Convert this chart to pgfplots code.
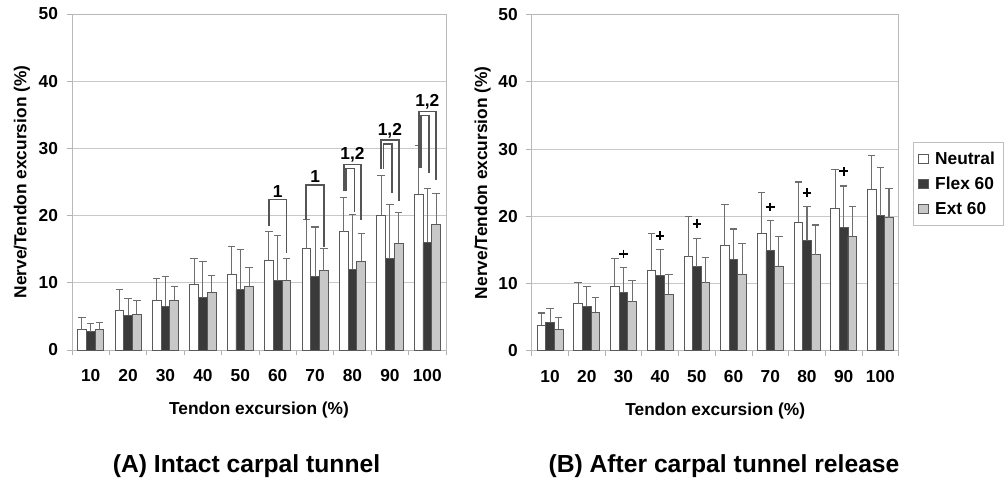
\documentclass[border=0pt]{standalone}
\usepackage{fontspec}
\setmainfont{Liberation Sans}
\usepackage{pgfplots}
\usepackage{pgfplotstable}
\pgfplotsset{compat=1.18}
\definecolor{flexc}{HTML}{3A3A3A}
\definecolor{extc}{HTML}{C8C8C8}
\definecolor{edgec}{HTML}{5A5A5A}
\definecolor{gridc}{HTML}{C8C8C8}
\definecolor{ebarc}{HTML}{6E6E6E}
\definecolor{brkc}{HTML}{555555}

% x n(eutral) ne(rror) f(lex) fe e(xt) ee
\pgfplotstableread{
x n ne f fe e ee
1 3.0 1.8 2.7 1.3 3.0 1.1
2 5.85 3.15 5.2 2.5 5.3 2.1
3 7.4 3.3 6.5 4.4 7.4 2.0
4 9.8 3.8 7.8 5.4 8.6 2.5
5 11.3 4.1 9.0 6.0 9.5 2.8
6 13.4 4.3 10.3 6.8 10.4 3.2
7 15.1 4.3 10.9 7.4 11.8 3.3
8 17.6 5.1 12.0 8.2 13.2 4.1
9 20.1 5.9 13.6 8.1 15.9 4.6
10 23.2 7.2 16.0 8.0 18.7 4.6
}\dataA

\pgfplotstableread{
x n ne f fe e ee
1 3.8 1.8 4.2 2.1 3.2 1.7
2 7.0 3.1 6.6 3.0 5.7 2.2
3 9.6 4.1 8.7 3.7 7.3 3.2
4 12.0 5.4 11.2 3.9 8.4 3.0
5 14.0 5.9 12.5 4.2 10.1 3.7
6 15.7 6.1 13.6 4.5 11.3 4.6
7 17.5 6.0 14.9 4.4 12.6 4.4
8 19.1 6.0 16.4 5.0 14.3 4.4
9 21.2 5.7 18.4 6.1 17.0 4.5
10 24.0 5.0 20.1 7.1 19.8 4.4
}\dataB

\newcommand{\lblfont}{\bfseries\fontsize{13}{15}\selectfont}

\pgfplotsset{
  panel/.style={
    scale only axis, height=252pt,
    xmin=0.5, xmax=10.5, ymin=0, ymax=50,
    xtick={1,2,3,4,5,6,7,8,9,10},
    xticklabels={10,20,30,40,50,60,70,80,90,100},
    major x tick style={draw=none},
    minor xtick={0.5,1.5,...,10.5},
    minor tick length=4pt,
    ytick={0,10,20,30,40,50},
    major tick length=4pt,
    tick align=outside, tick pos=left,
    tick style={gray!60, line width=0.6pt},
    ymajorgrids, grid style={gridc, line width=0.7pt},
    axis line style={gray!55, line width=0.7pt},
    tick label style={font=\lblfont},
    /pgf/number format/assume math mode=true,
    xticklabel style={yshift=-7pt},
    yticklabel style={xshift=-3pt},
    label style={font=\lblfont},
    xlabel={Tendon excursion (\%)},
    ylabel={Nerve/Tendon excursion (\%)},
    xlabel style={at={(axis description cs:0.5,-0.18)}, anchor=center},
    ylabel style={at={(axis description cs:-0.134,0.5)}, anchor=center},
    clip=false,
  },
  barbase/.style={ybar, bar width=0.235, bar shift=0, draw=edgec, line width=0.6pt,
    error bars/.cd, y dir=plus, y explicit,
    error bar style={ebarc, line width=0.8pt},
    error mark options={rotate=90, ebarc, line width=0.8pt, mark size=2.8pt}},
  nbar/.style={fill=white, barbase},
  fbar/.style={fill=flexc, barbase},
  ebar/.style={fill=extc, barbase},
  brk/.style={forget plot, sharp plot, no marks, brkc, line width=1.3pt},
}

\begin{document}
\begin{tikzpicture}
\useasboundingbox (0pt,0pt) rectangle (756pt,363pt);

% ---------- Panel A ----------
\begin{axis}[panel, width=280.5pt, at={(54pt,100.5pt)}, anchor=south west]
\addplot[nbar] table[x expr=\thisrow{x}-0.235, y=n, y error=ne] {\dataA};
\addplot[fbar] table[x=x, y=f, y error=fe] {\dataA};
\addplot[ebar] table[x expr=\thisrow{x}+0.235, y=e, y error=ee] {\dataA};
% brackets
\addplot[brk] coordinates {(5.765,18.4) (5.765,22.4) (6.235,22.4) (6.235,14.4)};
\addplot[brk] coordinates {(6.765,19.3) (6.765,24.6) (7.235,24.6) (7.235,15.4)};
\addplot[brk] coordinates {(7.77,23.6) (7.77,27.6) (8.235,27.6) (8.235,19.3)};
\addplot[brk] coordinates {(7.83,23.6) (7.83,27.0) (8.05,27.0) (8.05,20.6)};
\addplot[brk] coordinates {(8.77,27.0) (8.77,31.2) (9.235,31.2) (9.235,22.1)};
\addplot[brk] coordinates {(8.83,27.0) (8.83,30.6) (9.05,30.6) (9.05,23.3)};
\addplot[brk] coordinates {(9.77,27.1) (9.77,35.5) (10.235,35.5) (10.235,25.3)};
\addplot[brk] coordinates {(9.83,27.1) (9.83,34.9) (10.05,34.9) (10.05,26.3)};
\node[font=\lblfont, anchor=south, inner sep=1.5pt] at (axis cs:6,22.4) {1};
\node[font=\lblfont, anchor=south, inner sep=1.5pt] at (axis cs:7,24.6) {1};
\node[font=\lblfont, anchor=south, inner sep=1.5pt] at (axis cs:8,27.6) {1,2};
\node[font=\lblfont, anchor=south, inner sep=1.5pt] at (axis cs:9,31.2) {1,2};
\node[font=\lblfont, anchor=south, inner sep=1.5pt] at (axis cs:10,35.5) {1,2};
\end{axis}

% ---------- Panel B ----------
\begin{axis}[panel, width=275.25pt, at={(398.8pt,100pt)}, anchor=south west,
  legend style={at={(1.038,0.621)}, anchor=north west, draw=gray!50, line width=0.6pt,
    font=\lblfont, row sep=4pt, column sep=3pt, inner xsep=4pt, inner ysep=5pt, cells={anchor=west}},
  legend image code/.code={\draw[#1, draw=edgec, line width=0.6pt] (0pt,-3.3pt) rectangle (7pt,3.7pt);}
]
\addplot[nbar] table[x expr=\thisrow{x}-0.235, y=n, y error=ne] {\dataB};
\addplot[fbar] table[x=x, y=f, y error=fe] {\dataB};
\addplot[ebar] table[x expr=\thisrow{x}+0.235, y=e, y error=ee] {\dataB};
\addplot[forget plot, only marks, mark=+, mark size=3.2pt, line width=1.3pt, black]
  coordinates {(3,14.4) (4,17.1) (5,18.9) (7,21.4) (8,23.5) (9,26.7)};
\legend{Neutral, Flex 60, Ext 60}
\end{axis}

\node[font=\bfseries\fontsize{18.5}{21}\selectfont] at (184.9pt,13.5pt) {(A) Intact carpal tunnel};
\node[font=\bfseries\fontsize{18.5}{21}\selectfont] at (543pt,13.5pt) {(B) After carpal tunnel release};
\end{tikzpicture}
\end{document}
